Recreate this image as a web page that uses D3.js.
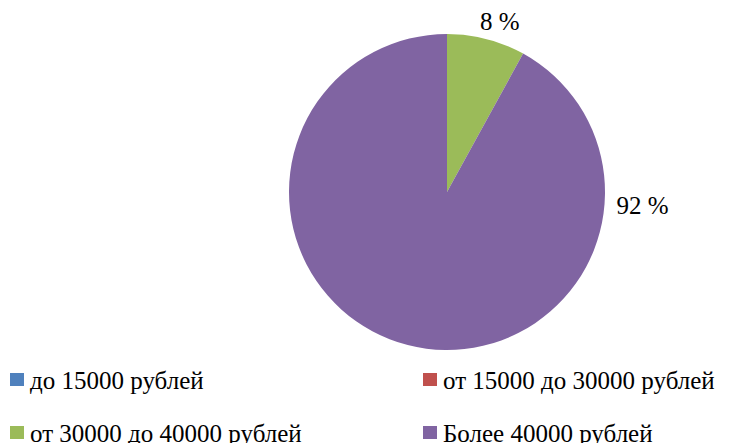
<!DOCTYPE html>
<html lang="ru">
<head>
<meta charset="utf-8">
<style>
    body { margin: 0; background: #fff; }
</style>
</head>
<body>
<script src="https://d3js.org/d3.v7.min.js"></script>
<script>
    var categories = ["до 15000 рублей", "от 15000 до 30000 рублей", "от 30000 до 40000 рублей", "Более 40000 рублей"];
    var values = [0, 0, 8, 92];
    var labels = ["", "", "8 %", "92 %"];
    var colors = ["#4F81BD", "#C0504D", "#9BBB59", "#8064A2"];

    var width = 735,
        height = 443,
        radius = 158,
        font = "'Liberation Serif', 'Times New Roman', serif";

    var svg = d3.select("body").append("svg")
        .attr("width", width)
        .attr("height", height);

    var g = svg.append("g")
        .attr("transform", "translate(447,192)");

    var pie = d3.pie().sort(null);
    var arc = d3.arc().innerRadius(0).outerRadius(radius);

    var arcs = pie(values);

    g.selectAll("path")
        .data(arcs)
        .enter()
        .append("path")
        .attr("fill", function (d, i) { return colors[i]; })
        .attr("d", arc);

    // where along each slice its label goes (0 = start, 1 = end) and how far out
    var labelPos = [0.5, 0.5, 0.6, 0.197];
    var labelDist = [0, 0, 178, 196];

    function labelAngle(d) {
        return d.startAngle + labelPos[d.index] * (d.endAngle - d.startAngle);
    }

    g.selectAll("text.lbl")
        .data(arcs.filter(function (d) { return d.value > 0; }))
        .enter()
        .append("text")
        .attr("class", "lbl")
        .attr("text-anchor", "middle")
        .attr("font-family", font)
        .attr("font-size", "25px")
        .attr("x", function (d) { return labelDist[d.index] * Math.sin(labelAngle(d)); })
        .attr("y", function (d) { return -labelDist[d.index] * Math.cos(labelAngle(d)); })
        .attr("dy", "0.33em")
        .text(function (d) { return labels[d.index]; });

    var legend = svg.selectAll("g.leg")
        .data(categories)
        .enter()
        .append("g")
        .attr("class", "leg")
        .attr("transform", function (d, i) {
            return "translate(" + (i % 2 ? 423 : 10) + "," + (i < 2 ? 373 : 426) + ")";
        });

    legend.append("rect")
        .attr("width", 14)
        .attr("height", 13)
        .attr("fill", function (d, i) { return colors[i]; });

    legend.append("text")
        .attr("x", 20)
        .attr("y", 16)
        .attr("font-family", font)
        .attr("font-size", "25px")
        .text(function (d) { return d; });
</script>
</body>
</html>
